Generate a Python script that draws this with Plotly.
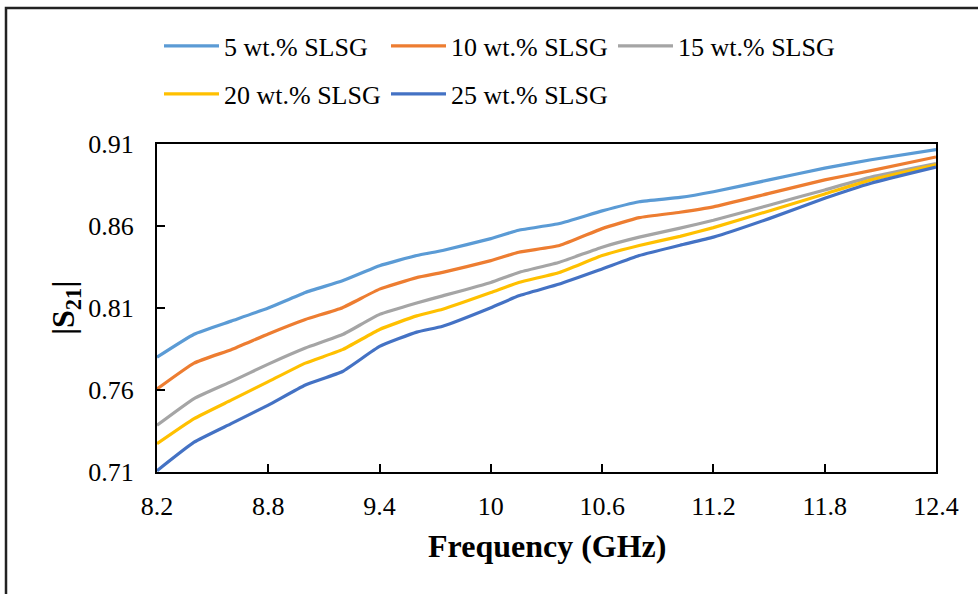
import plotly.graph_objects as go

freq = [8.2, 8.4, 8.6, 8.8, 9.0, 9.2, 9.4, 9.6, 9.74, 10.0, 10.15, 10.37, 10.6, 10.8, 11.02, 11.2, 11.5, 11.8, 12.05, 12.4]
s21_5 = [0.780, 0.794, 0.802, 0.810, 0.8195, 0.8266, 0.8358, 0.842, 0.8451, 0.8523, 0.8574, 0.8615, 0.8692, 0.8748, 0.8774, 0.8809, 0.8881, 0.8953, 0.9004, 0.9066]
s21_10 = [0.7606, 0.7764, 0.7846, 0.7942, 0.8030, 0.8102, 0.8215, 0.8285, 0.8317, 0.8389, 0.8440, 0.8481, 0.8584, 0.8651, 0.8684, 0.8717, 0.8799, 0.8881, 0.8938, 0.9021]
s21_15 = [0.7385, 0.7548, 0.7651, 0.7758, 0.7856, 0.7938, 0.8061, 0.8131, 0.8174, 0.8256, 0.8317, 0.8379, 0.8471, 0.8532, 0.8587, 0.8635, 0.8727, 0.8820, 0.8898, 0.8980]
s21_20 = [0.7272, 0.7425, 0.7538, 0.7651, 0.7764, 0.7846, 0.7969, 0.8052, 0.8092, 0.8194, 0.8256, 0.8317, 0.8420, 0.8481, 0.8537, 0.8590, 0.8692, 0.8795, 0.8881, 0.8973]
s21_25 = [0.7108, 0.7282, 0.7395, 0.7508, 0.7631, 0.7713, 0.7866, 0.7953, 0.7989, 0.8102, 0.8174, 0.8246, 0.8338, 0.8420, 0.8483, 0.8532, 0.8645, 0.8769, 0.8861, 0.8959]

names = ["5 wt.% SLSG", "10 wt.% SLSG", "15 wt.% SLSG", "20 wt.% SLSG", "25 wt.% SLSG"]
series = [s21_5, s21_10, s21_15, s21_20, s21_25]
colors = ["#5B9BD5", "#ED7D31", "#A5A5A5", "#FFC000", "#4472C4"]
legends = ["legend", "legend", "legend", "legend2", "legend2"]

x_ticks = [8.2, 8.8, 9.4, 10.0, 10.6, 11.2, 11.8, 12.4]
x_ticklabels = ["8.2", "8.8", "9.4", "10", "10.6", "11.2", "11.8", "12.4"]
y_ticks = [0.71, 0.76, 0.81, 0.86, 0.91]
y_ticklabels = ["0.71", "0.76", "0.81", "0.86", "0.91"]

FONT = "Liberation Serif, Times New Roman, serif"

fig = go.Figure()
for n, s, c, lg in zip(names, series, colors, legends):
    fig.add_trace(go.Scatter(x=freq, y=s, name=n, mode="lines",
                             line=dict(color=c, width=3.2, shape="spline", smoothing=0.4),
                             legend=lg))

L, R, T, B = 157, 42, 144, 122
W, H = 978, 594
pw, ph = W - L - R, H - T - B

def px2x(p):
    return (p - L) / pw

def py2y(p):
    return (H - B - p) / ph

leg_common = dict(orientation="h", xanchor="left", yanchor="middle",
                  font=dict(family=FONT, size=26, color="black"),
                  itemwidth=55, entrywidth=157, entrywidthmode="pixels",
                  bgcolor="rgba(0,0,0,0)", borderwidth=0, tracegroupgap=0)

fig.update_layout(
    width=W, height=H,
    margin=dict(l=L, r=R, t=T, b=B),
    paper_bgcolor="white", plot_bgcolor="white",
    font=dict(family=FONT, size=26, color="black"),
    legend=dict(x=px2x(159), y=py2y(46), **leg_common),
    legend2=dict(x=px2x(159), y=py2y(94), **leg_common),
    xaxis=dict(range=[8.2, 12.4], tickvals=x_ticks, ticktext=x_ticklabels,
               showgrid=False, zeroline=False, showline=True, linecolor="black",
               linewidth=2, mirror=True, ticks="inside", ticklen=8, tickwidth=2,
               tickcolor="black", ticklabelstandoff=10,
               tickfont=dict(family=FONT, size=26, color="black")),
    yaxis=dict(range=[0.71, 0.91], tickvals=y_ticks, ticktext=y_ticklabels,
               showgrid=False, zeroline=False, showline=True, linecolor="black",
               linewidth=2, mirror=True, ticks="inside", ticklen=8, tickwidth=2,
               tickcolor="black", ticklabelstandoff=16,
               tickfont=dict(family=FONT, size=26, color="black")),
    showlegend=True,
)

fig.add_annotation(text="<b>Frequency (GHz)</b>", xref="paper", yref="paper",
                   x=px2x(547), y=py2y(546), xanchor="center", yanchor="middle",
                   showarrow=False, font=dict(family=FONT, size=32, color="black"))
fig.add_annotation(text="<b>|S<sub>21</sub>|</b>", xref="paper", yref="paper",
                   x=px2x(65), y=py2y(308), xanchor="center", yanchor="middle",
                   textangle=-90, showarrow=False,
                   font=dict(family=FONT, size=32, color="black"))

fig.add_shape(type="rect", xref="paper", yref="paper",
              x0=px2x(6), x1=px2x(1000), y0=py2y(620), y1=py2y(8),
              line=dict(color="#222222", width=2.5), fillcolor="rgba(0,0,0,0)",
              layer="below")

fig.write_html("out.html")
